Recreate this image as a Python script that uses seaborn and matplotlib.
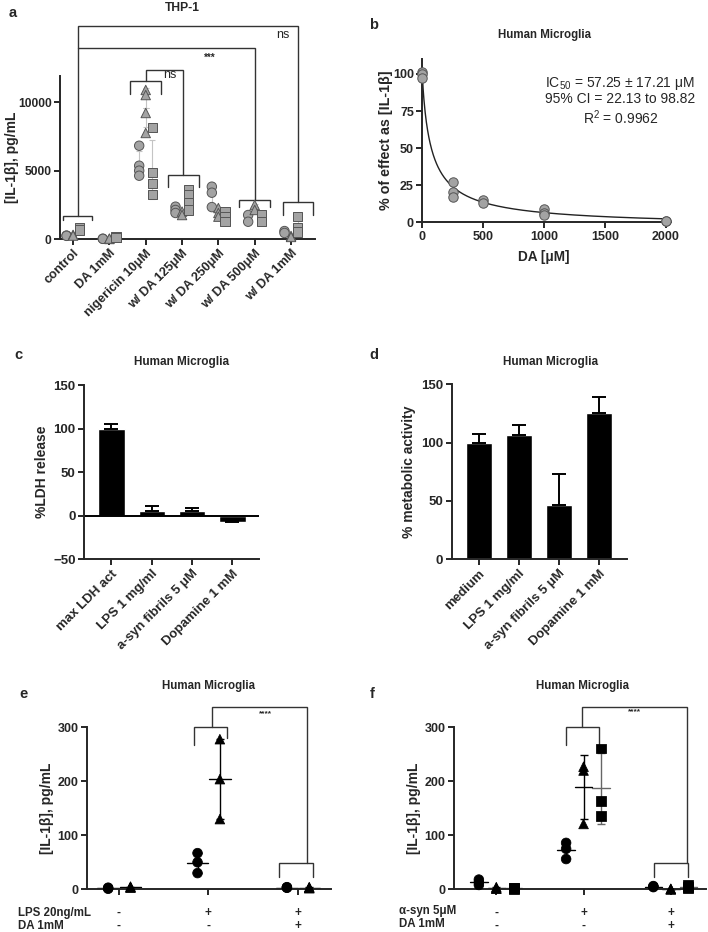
import numpy as np
import pandas as pd
import seaborn as sns
import matplotlib
matplotlib.use('Agg')
import matplotlib.pyplot as plt

# ---- data ----
thp_groups = ['control', 'DA 1mM', 'nigericin 10μM', 'w/ DA 125μM',
              'w/ DA 250μM', 'w/ DA 500μM', 'w/ DA 1mM']
thp_circle = [[250, 230], [20, 10], [6810, 5350, 4990, 4620], [2360, 2120, 1900],
              [3820, 3380, 2330], [1750, 1260], [580, 440]]
thp_triangle = [[300, 250], [0, 30], [10880, 10510, 9200, 7740], [2000, 1750],
                [2260, 1900, 1630], [2480, 2120], [220, 150]]
thp_square = [[800, 650], [150, 120], [8150, 4840, 4060, 3260], [3580, 3210, 2630, 2120],
              [1970, 1630, 1260], [1750, 1260], [1630, 800, 510]]

da_conc = [0, 0, 0, 250, 250, 250, 500, 500, 1000, 1000, 1000, 2000, 2000]
da_effect = [101, 100, 97, 27.4, 20.6, 16.8, 15.0, 12.8, 8.8, 6.5, 4.9, 1.2, 0.8]
# shape of the drawn fit curve
fit_mid, fit_hill, fit_bottom = 79.0, 0.9, -3.0

ldh_labels = ['max LDH act', 'LPS 1 mg/ml', 'a-syn fibrils 5 μM', 'Dopamine 1 mM']
ldh_mean = [100, 5.5, 5.5, -7.5]
ldh_sd = [5, 6, 3, 1]

meta_labels = ['medium', 'LPS 1 mg/ml', 'a-syn fibrils 5 μM', 'Dopamine 1 mM']
meta_mean = [100, 106.6, 46.6, 125.5]
meta_sd = [7.5, 8.8, 26.3, 13.4]

lps_circle = [[2, 1, 3], [67, 50, 30], [4, 3, 3]]
lps_triangle = [[3, 5, 4], [278, 204, 130], [3, 2, 4]]
lps_row1 = ['-', '+', '+']
lps_row2 = ['-', '-', '+']

syn_circle = [[18, 13, 8], [86, 75, 56], [6, 5, 4]]
syn_triangle = [[4, 2, 1], [227, 220, 121], [1, 0, 0]]
syn_square = [[2, 3, 1], [261, 164, 136], [8, 4, 2]]
syn_row1 = ['-', '+', '+']
syn_row2 = ['-', '-', '+']

W, H = 708, 932
LW = 1.4


def long_df(series, offsets):
    rows = []
    for shape, groups in series.items():
        for gi, vals in enumerate(groups):
            for v in vals:
                rows.append({'group': gi, 'shape': shape, 'x': gi + offsets[shape], 'value': v})
    return pd.DataFrame(rows)


def mean_sd(ax, df, half, color, lw, cap):
    for (gi, shape), d in df.groupby(['group', 'shape']):
        m, s = d['value'].mean(), d['value'].std()
        x = d['x'].iloc[0]
        ax.errorbar(x, m, yerr=s, fmt='none', ecolor=color[shape], elinewidth=lw,
                    capsize=cap, capthick=lw, zorder=2, clip_on=False)
        ax.plot([x - half, x + half], [m, m], color=color[shape], lw=lw, zorder=2, clip_on=False)


def line(ax, xs, ys, lw=1.0, color='#333333'):
    ax.plot(xs, ys, color=color, lw=lw, clip_on=False, solid_joinstyle='miter')


def style_ax(ax, size):
    sns.despine(ax=ax)
    for sp in ax.spines.values():
        sp.set_linewidth(LW)
    ax.tick_params(width=LW, length=4, labelsize=size, pad=2)


def ylabel_at(ax, text, px, size=10):
    ax.set_ylabel(text, fontsize=size, fontweight='bold')
    pos = ax.get_position()
    ax.yaxis.label.set_va('center')
    ax.yaxis.set_label_coords((px / W - pos.x0) / pos.width, 0.5)


sns.set_theme(style='ticks')
plt.rcParams['font.family'] = ['Liberation Sans', 'DejaVu Sans']
plt.rcParams['font.weight'] = 'bold'
plt.rcParams['mathtext.fontset'] = 'custom'
plt.rcParams['mathtext.rm'] = 'Liberation Sans'
plt.rcParams['mathtext.default'] = 'regular'

fig = plt.figure(figsize=(W / 100, H / 100), dpi=100)


def ftext(px, py, s, **kw):
    fig.text(px / W, 1 - py / H, s, ha=kw.pop('ha', 'center'), va=kw.pop('va', 'center'), **kw)


# ---- a: THP-1 ----
ax = fig.add_axes([60 / W, 1 - 239 / H, 255 / W, 163 / H])
off_a = {'circle': -0.18, 'triangle': 0.0, 'square': 0.18}
df_a = long_df({'circle': thp_circle, 'triangle': thp_triangle, 'square': thp_square}, off_a)
mean_sd(ax, df_a, 0.08, {k: '#c4c4c4' for k in off_a}, 0.8, 2)
sns.scatterplot(data=df_a, x='x', y='value', style='shape',
                markers={'circle': 'o', 'triangle': '^', 'square': 's'},
                color='#a3a3a3', edgecolor='#555555', linewidth=0.7, s=46,
                legend=False, ax=ax, zorder=3, clip_on=False)
ax.set_xlim(-0.36, 6.66)
ax.set_ylim(0, 11900)
ax.set_xticks(range(len(thp_groups)))
ax.set_xticklabels(thp_groups, rotation=45, ha='right', rotation_mode='anchor')
ax.set_yticks([0, 5000, 10000])
ax.set_xlabel('')
style_ax(ax, 8.7)
plt.setp(ax.get_xticklabels(), fontsize=9.2)
ylabel_at(ax, '[IL-1β], pg/mL', 12)
# significance brackets
line(ax, [-0.27, -0.27, 0.52, 0.52], [1390, 1700, 1700, 1390])
line(ax, [1.57, 1.57, 2.42, 2.42], [10590, 11560, 11560, 10590])
line(ax, [2.6, 2.6, 3.47, 3.47], [3820, 4670, 4670, 3820])
line(ax, [4.57, 4.57, 5.42, 5.42], [2360, 2850, 2850, 2360])
line(ax, [5.77, 5.77, 6.61, 6.61], [1750, 2720, 2720, 1750])
line(ax, [0.125, 0.125, 6.19, 6.19], [1700, 15550, 15550, 2720])
line(ax, [0.125, 5.0, 5.0], [13940, 13940, 2850])
line(ax, [2.0, 2.0, 3.035, 3.035], [11560, 12310, 12310, 4670])
ax.text(5.78, 14890, 'ns', ha='center', va='center', fontsize=9, fontweight='normal')
ax.text(3.76, 13250, '***', ha='center', va='center', fontsize=7)
ax.text(2.67, 11950, 'ns', ha='center', va='center', fontsize=9, fontweight='normal')
ftext(182, 8, 'THP-1', fontsize=8.7)
ftext(13, 13, 'a', fontsize=10.5)

# ---- b: IC50 curve ----
ax = fig.add_axes([422.3 / W, 1 - 222.3 / H, 248.3 / W, 163.2 / H])
xc = np.linspace(0, 2000, 600)
yc = fit_bottom + (100 - fit_bottom) / (1 + (xc / fit_mid) ** fit_hill)
sns.lineplot(x=xc, y=yc, color='#222222', lw=1.0, ax=ax)
sns.scatterplot(x=da_conc, y=da_effect, color='#a3a3a3', edgecolor='#555555',
                linewidth=0.7, s=46, ax=ax, zorder=3, clip_on=False)
ax.set_xlim(0, 2040)
ax.set_ylim(0, 110)
ax.set_xticks([0, 500, 1000, 1500, 2000])
ax.set_yticks([0, 25, 50, 75, 100])
style_ax(ax, 9)
ylabel_at(ax, '% of effect as [IL-1β]', 386, 10.3)
ax.set_xlabel('DA [μM]', fontsize=9.8, fontweight='bold')
ax.xaxis.label.set_va('center')
ax.xaxis.set_label_coords((544 - 422.3) / 248.3, (222.3 - 257) / 163.2)
ftext(620, 83, 'IC$_{50}$ = 57.25 ± 17.21 μM', fontsize=10, fontweight='normal')
ftext(620, 99, '95% CI = 22.13 to 98.82', fontsize=10, fontweight='normal')
ftext(621, 118, 'R$^{2}$ = 0.9962', fontsize=10, fontweight='normal')
ftext(544, 35, 'Human Microglia', fontsize=8.3)
ftext(374, 25, 'b', fontsize=10.5)

# ---- c: LDH release ----
ax = fig.add_axes([84 / W, 1 - 559.3 / H, 174.7 / W, 174.3 / H])
sns.barplot(x=ldh_labels, y=ldh_mean, color='black', saturation=1, width=0.65,
            errorbar=None, ax=ax)
ax.errorbar(range(4), ldh_mean, yerr=[[0] * 4, ldh_sd], fmt='none', ecolor='black',
            elinewidth=LW, capsize=5, capthick=LW)
ax.axhline(0, color='black', lw=LW)
ax.set_xlim(-0.68, 3.65)
ax.set_ylim(-50, 150)
ax.set_yticks([-50, 0, 50, 100, 150])
style_ax(ax, 9.5)
plt.setp(ax.get_xticklabels(), rotation=45, ha='right', rotation_mode='anchor')
ylabel_at(ax, '%LDH release', 42)
ftext(182, 362, 'Human Microglia', fontsize=8.5)
ftext(18, 355, 'c', fontsize=10.5)

# ---- d: metabolic activity ----
ax = fig.add_axes([451.7 / W, 1 - 559.3 / H, 175 / W, 175 / H])
sns.barplot(x=meta_labels, y=meta_mean, color='black', saturation=1, width=0.67,
            errorbar=None, ax=ax)
ax.errorbar(range(4), meta_mean, yerr=[[0] * 4, meta_sd], fmt='none', ecolor='black',
            elinewidth=LW, capsize=5, capthick=LW)
ax.set_xlim(-0.68, 3.69)
ax.set_ylim(0, 150)
ax.set_yticks([0, 50, 100, 150])
style_ax(ax, 9.5)
plt.setp(ax.get_xticklabels(), rotation=45, ha='right', rotation_mode='anchor')
ylabel_at(ax, '% metabolic activity', 409)
ftext(551, 362, 'Human Microglia', fontsize=8.5)
ftext(374, 355, 'd', fontsize=10.5)


def dot_panel(ax, series, offsets, colors, half, rows, xlim):
    df = long_df(series, offsets)
    mean_sd(ax, df, half, colors, 1.0, 3)
    sns.scatterplot(data=df, x='x', y='value', style='shape',
                    markers={'circle': 'o', 'triangle': '^', 'square': 's'},
                    color='black', edgecolor='black', s=48, legend=False,
                    ax=ax, zorder=3, clip_on=False)
    ax.set_xlim(*xlim)
    ax.set_ylim(0, 300)
    ax.set_xticks([0, 1, 2])
    ax.set_xticklabels([])
    ax.set_yticks([0, 100, 200, 300])
    ax.set_xlabel('')
    style_ax(ax, 9)
    for gi in range(3):
        ax.text(gi, -0.148, rows[0][gi], transform=ax.get_xaxis_transform(),
                ha='center', va='center', fontsize=8.5)
        ax.text(gi, -0.225, rows[1][gi], transform=ax.get_xaxis_transform(),
                ha='center', va='center', fontsize=8.5)


# ---- e: LPS ----
ax = fig.add_axes([86.7 / W, 1 - 889.3 / H, 244 / W, 162 / H])
dot_panel(ax, {'circle': lps_circle, 'triangle': lps_triangle},
          {'circle': -0.12, 'triangle': 0.13},
          {'circle': 'black', 'triangle': 'black'}, 0.12,
          (lps_row1, lps_row2), (-0.36, 2.37))
ylabel_at(ax, '[IL-1β], pg/mL', 47)
line(ax, [0.843, 0.843, 1.206, 1.206], [267, 301, 301, 281])
line(ax, [1.045, 1.045, 2.11, 2.11], [301, 338, 338, 49])
line(ax, [1.795, 1.795, 2.175, 2.175], [23, 49, 49, 23])
ax.text(1.64, 325, '****', ha='center', va='center', fontsize=6)
ftext(18, 913.3, 'LPS 20ng/mL', ha='left', fontsize=8.3)
ftext(18, 925.7, 'DA 1mM', ha='left', fontsize=8.3)
ftext(208, 686, 'Human Microglia', fontsize=8.3)
ftext(23, 694, 'e', fontsize=10.5)

# ---- f: alpha-synuclein ----
ax = fig.add_axes([454 / W, 1 - 889.3 / H, 251.7 / W, 162 / H])
dot_panel(ax, {'circle': syn_circle, 'triangle': syn_triangle, 'square': syn_square},
          {'circle': -0.2, 'triangle': 0.0, 'square': 0.2},
          {'circle': 'black', 'triangle': 'black', 'square': '#666666'}, 0.1,
          (syn_row1, syn_row2), (-0.485, 2.4))
ylabel_at(ax, '[IL-1β], pg/mL', 414)
line(ax, [0.796, 0.796, 1.178, 1.178], [268, 300, 300, 262])
line(ax, [0.986, 0.986, 2.19, 2.19], [300, 338, 338, 48])
line(ax, [1.81, 1.81, 2.2, 2.2], [22, 48, 48, 22])
ax.text(1.58, 328, '****', ha='center', va='center', fontsize=6)
ftext(399, 911, 'α-syn 5μM', ha='left', fontsize=8.3)
ftext(399, 924, 'DA 1mM', ha='left', fontsize=8.3)
ftext(583, 686, 'Human Microglia', fontsize=8.3)
ftext(372, 694, 'f', fontsize=10.5)

fig.savefig('out.png', dpi=100)
